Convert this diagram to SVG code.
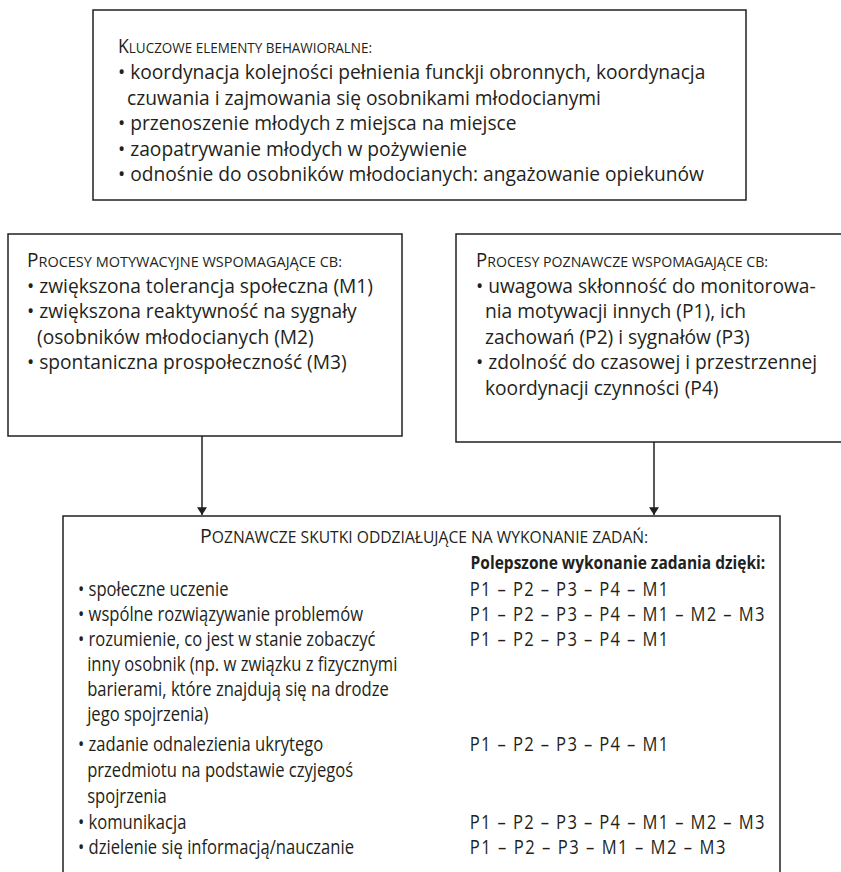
<svg xmlns="http://www.w3.org/2000/svg" width="841" height="872" viewBox="0 0 841 872">
<defs>
<style>
.box{fill:#fff;stroke:#231f20;stroke-width:1.5}
.t{font-family:"Open Sans","Noto Sans",sans-serif;font-size:19.2px;fill:#231f20}
.sc{font-size:14.6px}
.c{font-family:"Open Sans","Noto Sans",sans-serif;font-size:20px;fill:#231f20}
.cs{font-size:16px}
.b{font-weight:bold;font-size:17px}
.conn{stroke:#231f20;stroke-width:1.5;fill:none}
</style>
<marker id="ah" viewBox="0 0 10 13" refX="10" refY="6.5" markerWidth="13" markerHeight="10" markerUnits="userSpaceOnUse" orient="auto">
<path d="M0,0 L10,6.5 L0,13 Z" fill="#231f20"/>
</marker>
</defs>
<rect width="841" height="872" fill="#fff"/>
<g id="connectors">
<line class="conn" x1="202" y1="436" x2="202" y2="515" marker-end="url(#ah)"/>
<line class="conn" x1="654" y1="442" x2="654" y2="515" marker-end="url(#ah)"/>
</g>
<g id="node-behavior">
<rect class="box" x="93" y="10" width="653" height="190"/>
<text class="t" x="118" y="53" textLength="254" lengthAdjust="spacingAndGlyphs">K<tspan class="sc">LUCZOWE ELEMENTY BEHAWIORALNE:</tspan></text>
<text class="t" x="118" y="79">• koordynacja kolejności pełnienia funckji obronnych, koordynacja</text>
<text class="t" x="127" y="104.5">czuwania i zajmowania się osobnikami młodocianymi</text>
<text class="t" x="118" y="130">• przenoszenie młodych z miejsca na miejsce</text>
<text class="t" x="118" y="155.5">• zaopatrywanie młodych w pożywienie</text>
<text class="t" x="118" y="181">• odnośnie do osobników młodocianych: angażowanie opiekunów</text>
</g>
<g id="node-motivational">
<rect class="box" x="8" y="234" width="394" height="202"/>
<text class="t" x="27" y="267" textLength="315" lengthAdjust="spacingAndGlyphs">P<tspan class="sc">ROCESY MOTYWACYJNE WSPOMAGAJĄCE CB:</tspan></text>
<text class="t" x="27" y="292.5">• zwiększona tolerancja społeczna (M1)</text>
<text class="t" x="27" y="318">• zwiększona reaktywność na sygnały</text>
<text class="t" x="37" y="343.5">(osobników młodocianych (M2)</text>
<text class="t" x="27" y="369">• spontaniczna prospołeczność (M3)</text>
</g>
<g id="node-cognitive">
<rect class="box" x="456" y="234" width="387" height="208"/>
<text class="t" x="476" y="267" textLength="292" lengthAdjust="spacingAndGlyphs">P<tspan class="sc">ROCESY POZNAWCZE WSPOMAGAJĄCE CB:</tspan></text>
<text class="t" x="476" y="292.5">• uwagowa skłonność do monitorowa-</text>
<text class="t" x="485" y="318">nia motywacji innych (P1), ich</text>
<text class="t" x="485" y="343.5">zachowań (P2) i sygnałów (P3)</text>
<text class="t" x="476" y="369">• zdolność do czasowej i przestrzennej</text>
<text class="t" x="485" y="394.5">koordynacji czynności (P4)</text>
</g>
<g id="node-effects">
<rect class="box" x="63" y="516" width="717" height="380"/>
<g transform="scale(0.83 1)">
<text class="c" x="511" y="543" text-anchor="middle" textLength="540" lengthAdjust="spacingAndGlyphs">P<tspan class="cs">OZNAWCZE SKUTKI ODDZIAŁUJĄCE NA WYKONANIE ZADAŃ:</tspan></text>
<text class="c b" x="922" y="569" text-anchor="end" textLength="355" lengthAdjust="spacingAndGlyphs">Polepszone wykonanie zadania dzięki:</text>
<text class="c" x="94" y="596">• społeczne uczenie</text>
<text class="c" x="94" y="621">• wspólne rozwiązywanie problemów</text>
<text class="c" x="94" y="646">• rozumienie, co jest w stanie zobaczyć</text>
<text class="c" x="105" y="671">inny osobnik (np. w związku z fizycznymi</text>
<text class="c" x="105" y="696">barierami, które znajdują się na drodze</text>
<text class="c" x="105" y="721">jego spojrzenia)</text>
<text class="c" x="94" y="751">• zadanie odnalezienia ukrytego</text>
<text class="c" x="105" y="777">przedmiotu na podstawie czyjegoś</text>
<text class="c" x="105" y="803">spojrzenia</text>
<text class="c" x="94" y="829">• komunikacja</text>
<text class="c" x="94" y="854">• dzielenie się informacją/nauczanie</text>
<text class="c" x="566" y="596" textLength="239" lengthAdjust="spacing">P1 – P2 – P3 – P4 – M1</text>
<text class="c" x="566" y="621" textLength="355" lengthAdjust="spacing">P1 – P2 – P3 – P4 – M1 – M2 – M3</text>
<text class="c" x="566" y="646" textLength="239" lengthAdjust="spacing">P1 – P2 – P3 – P4 – M1</text>
<text class="c" x="566" y="751" textLength="239" lengthAdjust="spacing">P1 – P2 – P3 – P4 – M1</text>
<text class="c" x="566" y="829" textLength="355" lengthAdjust="spacing">P1 – P2 – P3 – P4 – M1 – M2 – M3</text>
<text class="c" x="566" y="854" textLength="308" lengthAdjust="spacing">P1 – P2 – P3 – M1 – M2 – M3</text>
</g>
</g>
</svg>
